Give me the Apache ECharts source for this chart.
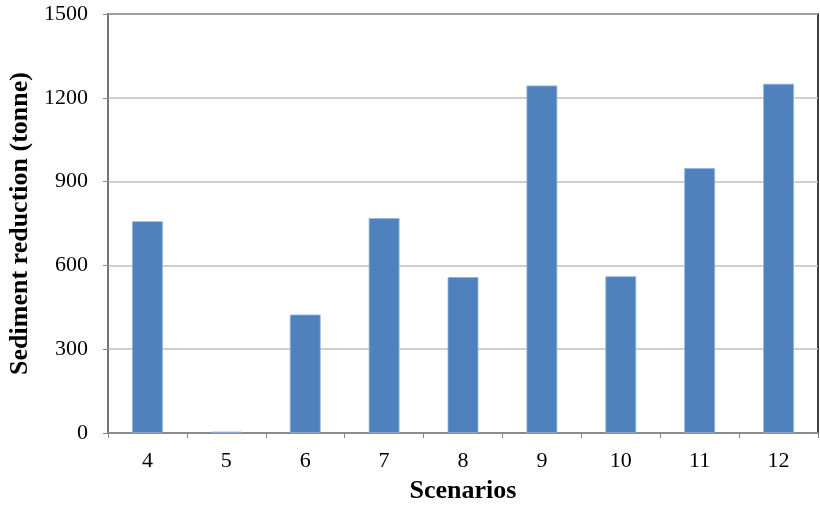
<!DOCTYPE html>
<html><head><meta charset="utf-8">
<script src="https://cdn.jsdelivr.net/npm/echarts@6/dist/echarts.min.js"></script>
<style>html,body{margin:0;padding:0;background:#fff}#c{width:820px;height:508px}</style>
</head><body><div id="c"></div>
<script>
const categories = ['4','5','6','7','8','9','10','11','12'];
const sedimentReduction = [758, 5, 424, 769, 558, 1244, 561, 948, 1250];
const yTicks = [0, 300, 600, 900, 1200, 1500];

const chart = echarts.init(document.getElementById('c'));
const font = '"Liberation Serif", "Times New Roman", serif';
chart.setOption({
  animation: false,
  grid: { left: 108, right: 2, top: 14, bottom: 75, show: true, borderColor: '#000', borderWidth: 1.5,
          containLabel: false, outerBoundsMode: 'none' },
  xAxis: {
    type: 'category', data: categories,
    name: 'Scenarios', nameLocation: 'middle', nameGap: 45,
    nameTextStyle: { fontFamily: font, fontSize: 26, fontWeight: 'bold', color: '#000' },
    axisLine: { lineStyle: { color: '#868686', width: 1.5 } },
    axisTick: { show: true, length: 5, lineStyle: { color: '#868686' } },
    axisLabel: { fontFamily: font, fontSize: 22, color: '#000', margin: 17 }
  },
  yAxis: {
    type: 'value', min: 0, max: 1500, interval: 300,
    name: 'Sediment reduction (tonne)', nameLocation: 'middle', nameGap: 72,
    nameTextStyle: { fontFamily: font, fontSize: 26, fontWeight: 'bold', color: '#000' },
    axisLine: { show: true, lineStyle: { color: '#868686', width: 1.5 } },
    axisTick: { show: true, length: 5, lineStyle: { color: '#868686' } },
    axisLabel: { fontFamily: font, fontSize: 22, color: '#000', margin: 20,
      formatter: v => yTicks.includes(v) ? String(v) : '' },
    splitLine: { lineStyle: { color: '#bfbfbf', width: 1.5 } }
  },
  series: [{
    type: 'bar', data: sedimentReduction, barWidth: '39%',
    itemStyle: { color: '#4F81BD', borderColor: '#8db3e2', borderWidth: 0.8 }
  }]
});
</script></body></html>
